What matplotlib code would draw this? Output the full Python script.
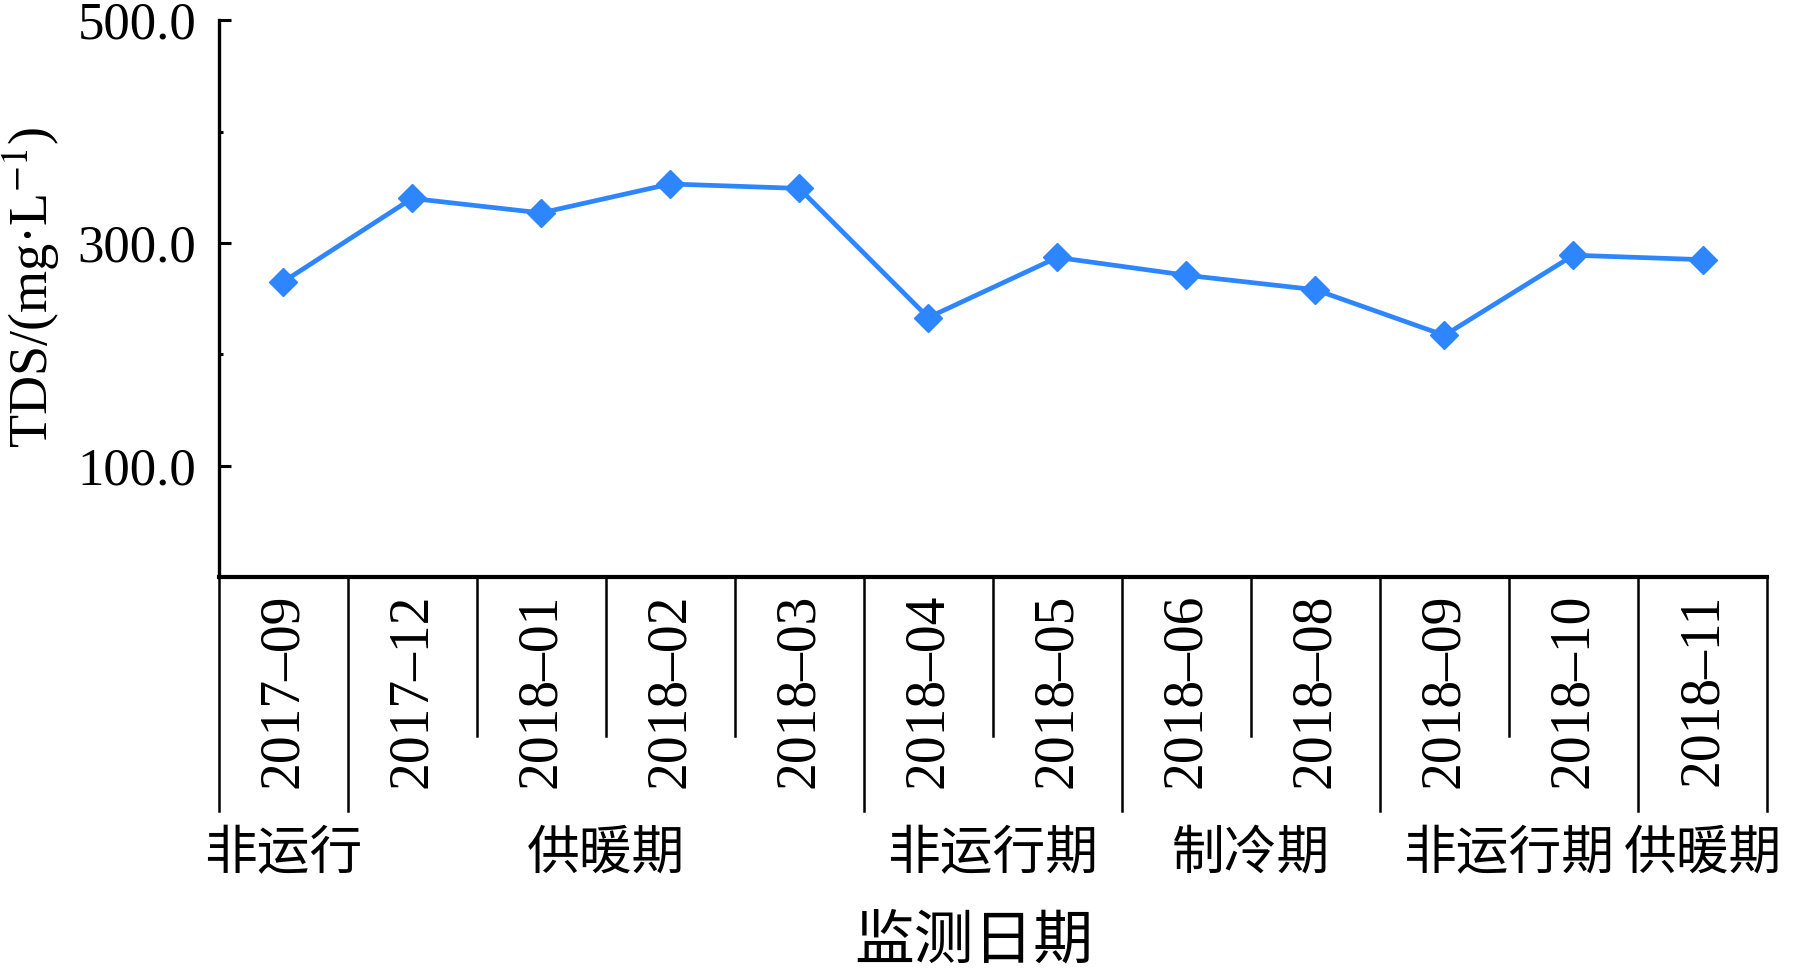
import matplotlib
matplotlib.use("Agg")
import matplotlib.pyplot as plt
import matplotlib.transforms as mtransforms

plt.rcParams['font.family'] = ['Liberation Serif', 'Noto Sans CJK SC']
plt.rcParams['mathtext.fontset'] = 'stix'

# data
dates = ["2017–09", "2017–12", "2018–01", "2018–02", "2018–03", "2018–04",
         "2018–05", "2018–06", "2018–08", "2018–09", "2018–10", "2018–11"]
tds = [265, 340, 327, 353, 349, 233, 287, 271, 258, 217, 289, 285]

# operating periods: (label, first index, last index)
periods = [("非运行", 0, 0), ("供暖期", 1, 4), ("非运行期", 5, 6),
           ("制冷期", 7, 8), ("非运行期", 9, 10), ("供暖期", 11, 11)]

fig = plt.figure(figsize=(18, 9.68), dpi=100)
ax = fig.add_axes([0.1214, 0.404, 0.8603, 0.575])

x = list(range(len(dates)))
ax.plot(x, tds, color="#2E86FF", linewidth=3.4, marker="D", markersize=14,
        markerfacecolor="#2E86FF", markeredgecolor="#2E86FF")

ax.set_xlim(-0.5, len(dates) - 0.5)
ax.set_ylim(0, 500)
ax.set_yticks([100, 300, 500])
ax.set_yticks([200, 400], minor=True)
ax.set_yticklabels([f"{v:.1f}" for v in [100, 300, 500]])
ax.tick_params(axis="y", which="major", direction="in", length=8.5, width=2.2,
               labelsize=38, pad=16)
ax.tick_params(axis="y", which="minor", direction="in", length=3, width=2.2)

ax.set_xticks(x)
ax.set_xticklabels(dates, rotation=90, va="top")
ax.tick_params(axis="x", length=0, labelsize=40, pad=12)

for s in ["top", "right"]:
    ax.spines[s].set_visible(False)
ax.spines["left"].set_linewidth(2.4)
ax.spines["bottom"].set_linewidth(3.0)

ax.set_ylabel(r"TDS/(mg·L$^{-1}$)", fontsize=39)
ax.yaxis.set_label_coords(-0.101, 0.52)

# divider lines under the axis
trans = mtransforms.blended_transform_factory(ax.transData, ax.transAxes)
long_edges = set([-0.5] + [p[2] + 0.5 for p in periods])
for k in range(len(dates) + 1):
    xe = k - 0.5
    ybot = -0.42 if xe in long_edges else -0.285
    ax.plot([xe, xe], [0, ybot], color="black", linewidth=1.8,
            transform=trans, clip_on=False)

for name, i0, i1 in periods:
    ax.text((i0 + i1) / 2, -0.50, name, transform=trans, ha="center",
            va="center", fontsize=38)

ax.text(0.488, -0.66, "监测日期", transform=ax.transAxes, ha="center",
        va="center", fontsize=43)

fig.savefig("out.png", dpi=100)
